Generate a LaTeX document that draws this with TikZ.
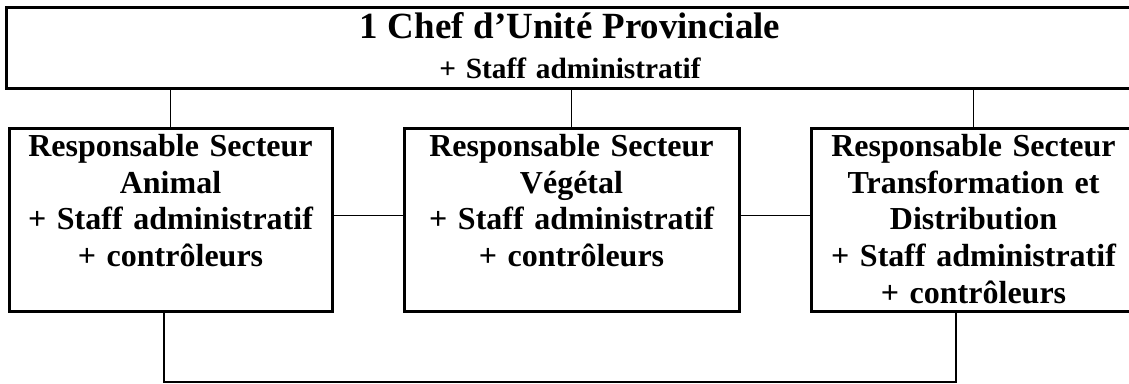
\documentclass[tikz,border=0pt]{standalone}
\usepackage{fontspec}
\setmainfont{Liberation Serif}
\begin{document}
\begin{tikzpicture}[x=0.75pt,y=-0.75pt]
            \tikzstyle{every node} = [draw, line width=2.25pt, inner sep=0pt, anchor=north, align=center, font=\bfseries]
            \tikzstyle{secteur} = [text height=21pt, text depth=116.25pt, font=\bfseries\fontsize{24}{27.5}\selectfont]
            \tikzstyle{lien} = [line width=1.2pt]
            \useasboundingbox (0,0) rectangle (1129,383);
            \node[text width=500pt, text height=23.25pt, text depth=37.5pt, minimum width=846pt, font=\bfseries\fontsize{22}{30}\selectfont] (chef) at (570,6) {{\fontsize{27.7}{30}\selectfont 1 Chef d’Unité Provinciale}\\ + Staff administratif};
            \node[secteur, text width=242.25pt] (animal) at (170.5,127) {Responsable Secteur\\ Animal\\ + Staff administratif\\ + contrôleurs};
            \node[secteur, text width=251.25pt] (vegetal) at (571.5,127) {Responsable Secteur\\ Végétal\\ + Staff administratif\\ + contrôleurs};
            \node[secteur, text width=243.75pt] (transfo) at (973.5,127) {Responsable Secteur\\ Transformation et\\ Distribution\\ + Staff administratif\\ + contrôleurs};
            \coordinate (bas) at (560,382);
            \draw[lien] (animal.north) -- (animal.north |- chef.south);
            \draw[lien] (vegetal.north) -- (vegetal.north |- chef.south);
            \draw[lien] (transfo.north) -- (transfo.north |- chef.south);
            \draw[lien] ([yshift=3.4pt]animal.east) -- ([yshift=3.4pt]vegetal.west);
            \draw[lien] ([yshift=3.4pt]vegetal.east) -- ([yshift=3.4pt]transfo.west);
            \draw[lien] ([xshift=-4.9pt]animal.south) |- (bas) -| ([xshift=-13.1pt]transfo.south);
        \end{tikzpicture}
\end{document}
